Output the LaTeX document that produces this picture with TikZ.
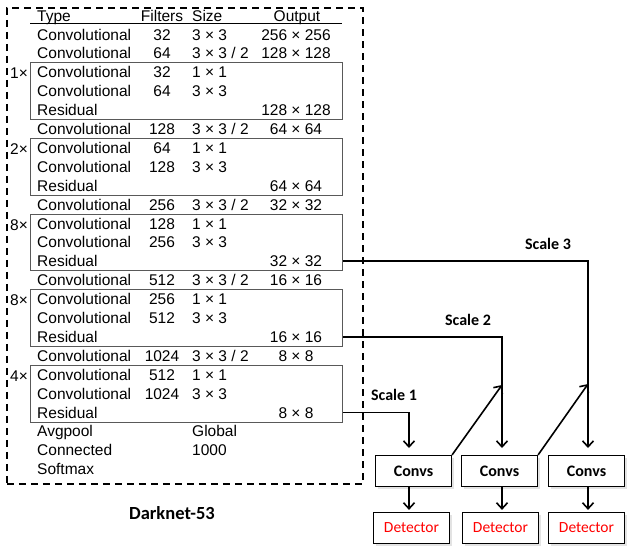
\documentclass[tikz,border=0pt]{standalone}
\usepackage{fontspec}
\setmainfont{Liberation Sans}
\newfontfamily\calfont{Carlito}
\usetikzlibrary{arrows.meta,shadows,calc}
\newcommand\rowy[1]{40+18.9*#1}
\begin{document}
\begin{tikzpicture}[x=1pt,y=-1pt,
  tbl/.style={inner sep=0pt,font=\fontsize{15.5}{18}\selectfont},
  grpbox/.style={draw=black!65,line width=1.1pt,minimum width=312pt,anchor=north west,inner sep=0pt},
  outerbox/.style={draw,dashed,dash pattern=on 7pt off 5pt,line width=1.8pt,anchor=north west,inner sep=0pt,minimum width=356pt,minimum height=476pt},
  conn/.style={line width=1.6pt,-{Straight Barb[length=6pt,width=11pt]}},
  convbox/.style={draw,line width=1.2pt,fill=white,minimum width=76pt,minimum height=31pt,inner sep=0pt,
     font=\calfont\bfseries\fontsize{16}{18}\selectfont,
     drop shadow={shadow xshift=2pt,shadow yshift=-2pt,fill=black!22}},
  detbox/.style={draw,line width=1.2pt,fill=white,minimum width=76pt,minimum height=31pt,inner sep=0pt,
     text=red,font=\calfont\fontsize{15.5}{18}\selectfont,
     drop shadow={shadow xshift=2pt,shadow yshift=-2pt,fill=black!22}},
  lbl/.style={font=\calfont\bfseries\fontsize{16}{18}\selectfont,inner sep=0pt}]
\useasboundingbox (0,0) rectangle (634,554);

% outer dashed frame
\node[outerbox] (dn) at (6,7) {};

% header
\node[tbl,anchor=base west] (hT) at (37,21) {Type};
\node[tbl,anchor=base] (hF) at (162,21) {Filters};
\node[tbl,anchor=base west] (hS) at (192,21) {Size};
\node[tbl,anchor=base] (hO) at (297,21) {Output};
\draw[line width=0.9pt] (30,23.5) -- (342,23.5);

\newcommand\trow[5]{%
  \node[tbl,anchor=base west] (t#1) at (37,{\rowy{#1}}) {#2};
  \node[tbl,anchor=base] (f#1) at (162,{\rowy{#1}}) {#3};
  \node[tbl,anchor=base west] (s#1) at (192,{\rowy{#1}}) {#4};
  \node[tbl,anchor=base] (o#1) at (296,{\rowy{#1}}) {#5};}

\trow{0}{Convolutional}{32}{3 × 3}{256 × 256}
\trow{1}{Convolutional}{64}{3 × 3 / 2}{128 × 128}
\trow{2}{Convolutional}{32}{1 × 1}{}
\trow{3}{Convolutional}{64}{3 × 3}{}
\trow{4}{Residual}{}{}{128 × 128}
\trow{5}{Convolutional}{128}{3 × 3 / 2}{64 × 64}
\trow{6}{Convolutional}{64}{1 × 1}{}
\trow{7}{Convolutional}{128}{3 × 3}{}
\trow{8}{Residual}{}{}{64 × 64}
\trow{9}{Convolutional}{256}{3 × 3 / 2}{32 × 32}
\trow{10}{Convolutional}{128}{1 × 1}{}
\trow{11}{Convolutional}{256}{3 × 3}{}
\trow{12}{Residual}{}{}{32 × 32}
\trow{13}{Convolutional}{512}{3 × 3 / 2}{16 × 16}
\trow{14}{Convolutional}{256}{1 × 1}{}
\trow{15}{Convolutional}{512}{3 × 3}{}
\trow{16}{Residual}{}{}{16 × 16}
\trow{17}{Convolutional}{1024}{3 × 3 / 2}{8 × 8}
\trow{18}{Convolutional}{512}{1 × 1}{}
\trow{19}{Convolutional}{1024}{3 × 3}{}
\trow{20}{Residual}{}{}{8 × 8}
\trow{21}{Avgpool}{}{Global}{}
\trow{22}{Connected}{}{1000}{}
\trow{23}{Softmax}{}{}{}

% residual groups
\foreach \g/\a/\m in {1/2/1×,2/6/2×,3/10/8×,4/14/8×,5/18/4×}{
  \node[grpbox,minimum height=56.8pt] (g\g) at (30,{\rowy{\a}-15.5}) {};
  \node[tbl,anchor=base west] (m\g) at (10,{\rowy{\a+1}}) {\m};
}

\node[font=\calfont\bfseries\fontsize{18.5}{20}\selectfont,inner sep=0pt] (dk) at (172,513) {Darknet-53};

% heads
\node[convbox] (cv1) at (413.5,471) {Convs};
\node[convbox] (cv2) at (499.5,471) {Convs};
\node[convbox] (cv3) at (586.5,471) {Convs};
\node[detbox] (det1) at (411.5,528) {Detector};
\node[detbox] (det2) at (500.5,528) {Detector};
\node[detbox] (det3) at (586.5,528) {Detector};

\node[lbl] (sc1) at (394,395) {Scale 1};
\node[lbl] (sc2) at (468,320) {Scale 2};
\node[lbl] (sc3) at (548,244) {Scale 3};

\coordinate (a1) at (409,448);
\coordinate (a2) at (502,448);
\coordinate (a3) at (588,448);
\coordinate (u2) at (502,385);
\coordinate (u3) at (588,384);

\draw[conn] (g5.east |- t20.center) -| (a1);
\draw[conn] (g4.east |- t16.center) -| (a2);
\draw[conn] (g3.east |- t12.center) -| (a3);
\draw[conn] (cv1.north east) -- (u2);
\draw[conn] (cv2.north east) -- (u3);

\draw[conn,shorten >=2pt] (cv1.south -| a1) -- (det1.north -| a1);
\draw[conn,shorten >=2pt] (cv2.south -| a2) -- (det2.north -| a2);
\draw[conn,shorten >=2pt] (cv3.south -| a3) -- (det3.north -| a3);
\end{tikzpicture}
\end{document}
